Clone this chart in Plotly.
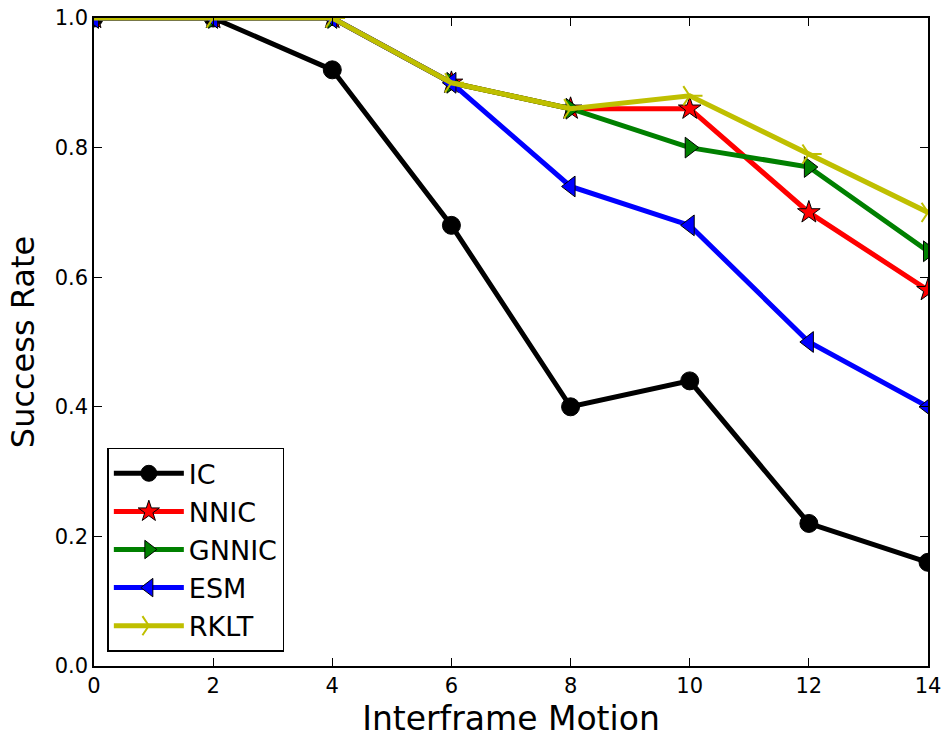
import plotly.graph_objects as go

x_vals = [0, 2, 4, 6, 8, 10, 12, 14]
ic = [1.0, 1.0, 0.92, 0.68, 0.40, 0.44, 0.22, 0.16]
nnic = [1.0, 1.0, 1.0, 0.90, 0.86, 0.86, 0.70, 0.58]
gnnic = [1.0, 1.0, 1.0, 0.90, 0.86, 0.80, 0.77, 0.64]
esm = [1.0, 1.0, 1.0, 0.90, 0.74, 0.68, 0.50, 0.40]
rklt = [1.0, 1.0, 1.0, 0.90, 0.86, 0.88, 0.79, 0.70]

series = [
    ("IC", ic, "#000000", "circle", 18, 1, "#000000"),
    ("NNIC", nnic, "#FF0000", "star", 17, 1, "#000000"),
    ("GNNIC", gnnic, "#008000", "triangle-right", 18, 1, "#000000"),
    ("ESM", esm, "#0000FF", "triangle-left", 18, 1, "#000000"),
    ("RKLT", rklt, "#BFBF00", "y-right", 16, 2, "#BFBF00"),
]

fig = go.Figure()
for name, ys, color, sym, size, lw, lc in series:
    fig.add_trace(go.Scatter(
        x=x_vals, y=ys, name=name, mode="lines+markers",
        line=dict(color=color, width=5),
        marker=dict(symbol=sym, size=size, color=color,
                    line=dict(color=lc, width=lw)),
    ))

axis_common = dict(
    showgrid=False, zeroline=False, showline=True, linecolor="black",
    linewidth=1.5, mirror="allticks", ticks="inside", ticklen=8,
    tickcolor="black", tickwidth=1, automargin=False,
    tickfont=dict(family="DejaVu Sans", size=21, color="black"),
)

fig.update_layout(
    width=943, height=742,
    margin=dict(l=94, r=15, t=18, b=76),
    plot_bgcolor="white", paper_bgcolor="white",
    xaxis=dict(range=[0, 14], tickvals=[0, 2, 4, 6, 8, 10, 12, 14],
               title=dict(text="Interframe Motion",
                          font=dict(family="DejaVu Sans", size=33, color="black"),
                          standoff=10),
               **axis_common),
    yaxis=dict(range=[0, 1.0], tickvals=[0, 0.2, 0.4, 0.6, 0.8, 1.0],
               tickformat=".1f",
               title=dict(text="Success Rate",
                          font=dict(family="DejaVu Sans", size=32, color="black"),
                          standoff=10),
               **axis_common),
    legend=dict(x=0.016, y=0.022, xanchor="left", yanchor="bottom",
                bordercolor="black", borderwidth=1.5, bgcolor="white",
                font=dict(family="DejaVu Sans", size=27, color="black"),
                itemwidth=70),
    showlegend=True,
)

fig.write_html("out.html")
